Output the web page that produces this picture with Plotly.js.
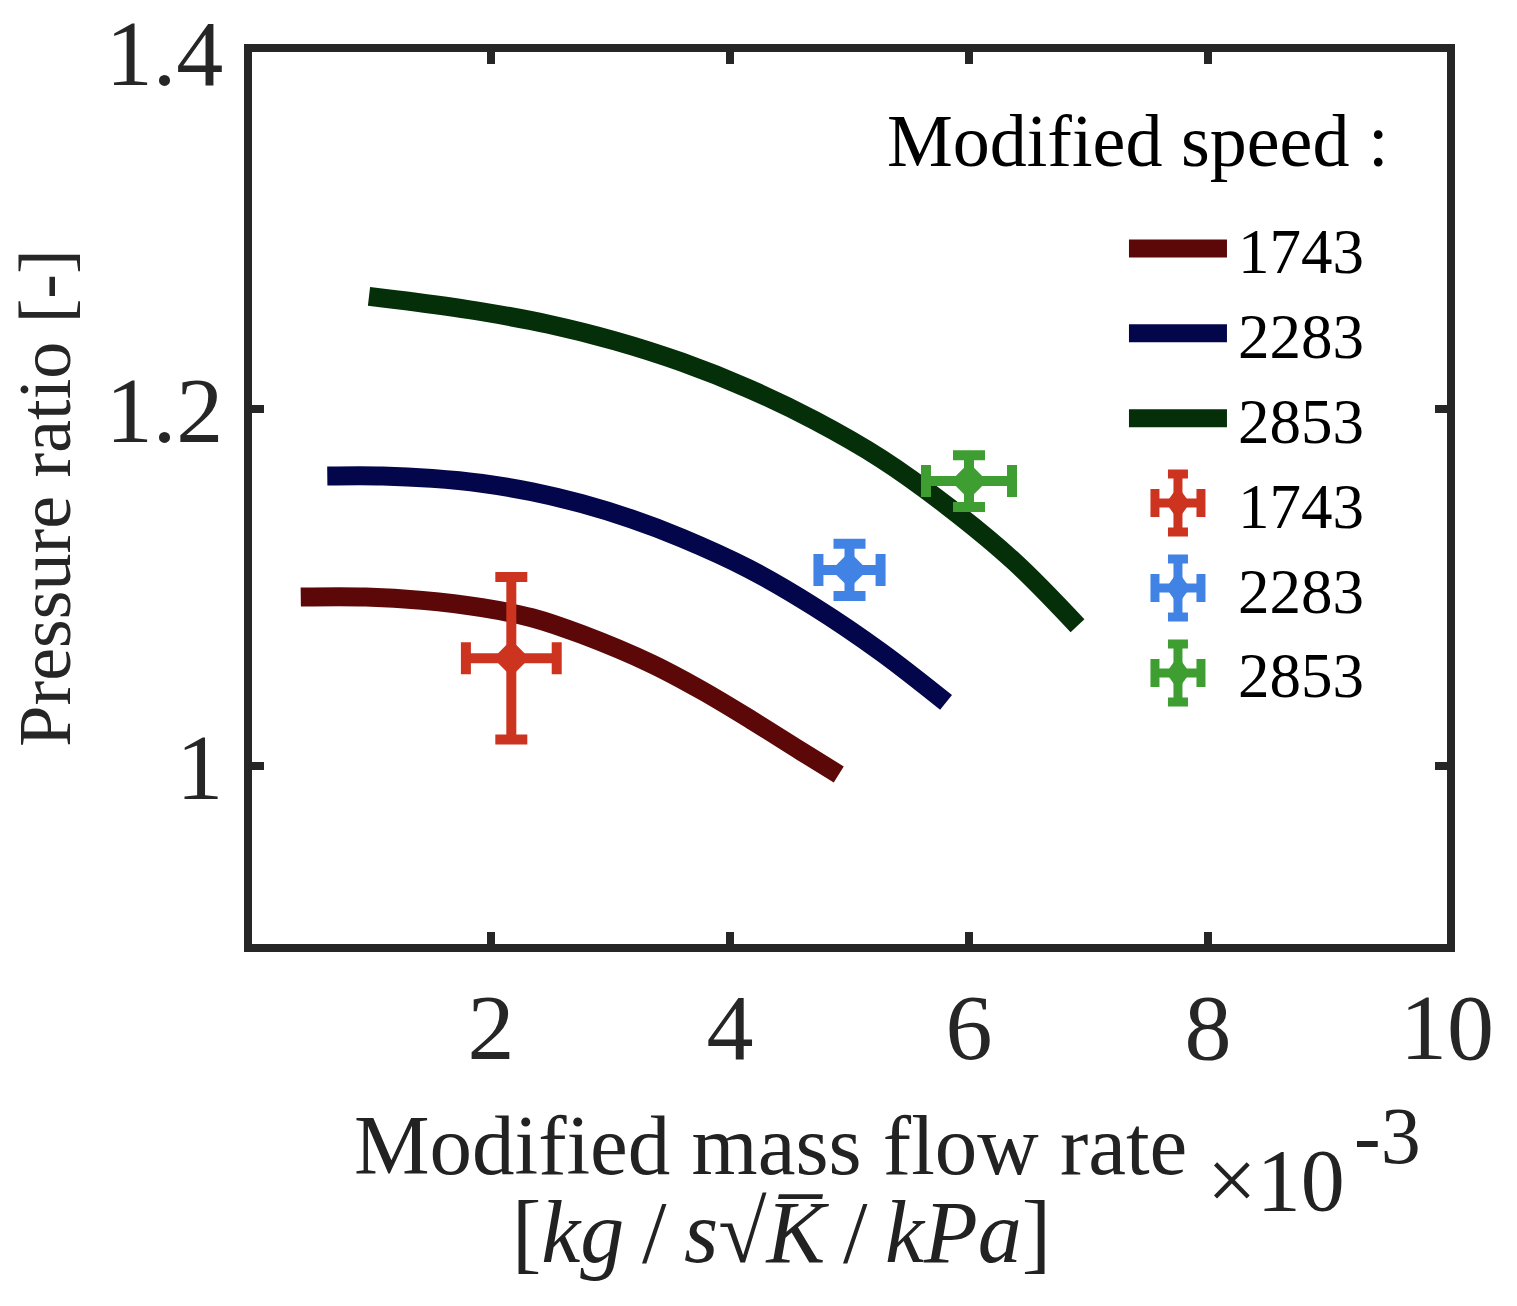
<!DOCTYPE html>
<html>
<head>
<meta charset="utf-8">
<script src="https://cdn.plot.ly/plotly-3.0.1.min.js"></script>
<style>
  body { margin: 0; background: #fff; }
  #chart { width: 1517px; height: 1306px; }
</style>
</head>
<body>
<div id="chart"></div>
<script>
// modified mass flow rate (x1e-3) / pressure ratio, model curves
const speeds = ['1743', '2283', '2853'];

const x1743 = [0.408, 0.950, 1.424, 1.925, 2.342, 2.760, 3.344, 3.762, 4.180, 4.597, 4.910];
const y1743 = [1.0945, 1.0945, 1.0926, 1.0885, 1.0829, 1.0735, 1.0570, 1.0422, 1.0255, 1.0080, 0.9950];

const x2283 = [0.630, 1.090, 1.507, 1.925, 2.342, 2.760, 3.177, 3.595, 4.152, 4.708, 5.265, 5.808];
const y2283 = [1.1624, 1.1624, 1.1610, 1.1582, 1.1535, 1.1468, 1.1382, 1.1276, 1.1105, 1.0889, 1.0636, 1.0354];

const x2853 = [0.979, 1.368, 1.925, 2.482, 3.038, 3.595, 4.152, 4.708, 5.265, 5.822, 6.378, 6.908];
const y2853 = [1.2630, 1.2598, 1.2544, 1.2474, 1.2381, 1.2262, 1.2114, 1.1935, 1.1720, 1.1453, 1.1144, 1.0784];

// measured points with error bars
const expX = [2.17, 5.0, 6.0];
const expY = [1.0602, 1.1097, 1.1595];
const expXerr = [0.38, 0.26, 0.36];
const expYerr = [0.0455, 0.0147, 0.0145];

const lineColors = ['#5c0808', '#03064a', '#042f09'];
const expColors = ['#cd3420', '#4183e5', '#3f9e31'];

const curvesX = [x1743, x2283, x2853];
const curvesY = [y1743, y2283, y2853];

let traces = [];
for (let i = 0; i < speeds.length; i++) {
    traces.push({
        x: curvesX[i], y: curvesY[i],
        type: 'scatter', mode: 'lines',
        name: speeds[i],
        line: {color: lineColors[i], width: 19, shape: 'spline', smoothing: 1},
        hoverinfo: 'skip'
    });
}
for (let i = 0; i < speeds.length; i++) {
    traces.push({
        x: [expX[i]], y: [expY[i]],
        type: 'scatter', mode: 'markers',
        name: speeds[i],
        marker: {symbol: 'diamond', size: 28, color: expColors[i]},
        error_x: {type: 'data', array: [expXerr[i]], color: expColors[i], thickness: 10, width: 16},
        error_y: {type: 'data', array: [expYerr[i]], color: expColors[i], thickness: 10, width: 16}
    });
}

const serif = 'Liberation Serif, Times New Roman, serif';
const axisCol = '#262626';

let layout = {
    width: 1517, height: 1306,
    paper_bgcolor: '#fff', plot_bgcolor: '#fff',
    margin: {l: 252, r: 70, t: 52, b: 362},
    font: {family: serif, color: '#000'},
    showlegend: true,
    legend: {
        x: 0.9347, y: 0.833, xanchor: 'right', yanchor: 'top',
        itemwidth: 104,
        bgcolor: 'rgba(0,0,0,0)', borderwidth: 0,
        font: {family: serif, size: 63, color: '#000'}
    },
    xaxis: {
        range: [0, 10],
        tickvals: [2, 4, 6, 8, 10],
        ticktext: ['2', '4', '6', '8', '10'],
        ticks: 'inside', ticklen: 12, tickwidth: 8, tickcolor: axisCol,
        showline: true, linewidth: 8, linecolor: axisCol, mirror: 'ticks',
        showgrid: false, zeroline: false,
        ticklabelstandoff: -6,
        tickfont: {family: serif, size: 94, color: axisCol}
    },
    yaxis: {
        range: [0.9, 1.4],
        tickvals: [1, 1.2, 1.4],
        ticktext: ['1', '1.2', '1.4'],
        ticks: 'inside', ticklen: 12, tickwidth: 8, tickcolor: axisCol,
        showline: true, linewidth: 8, linecolor: axisCol, mirror: 'ticks',
        showgrid: false, zeroline: false,
        ticklabelstandoff: 2,
        tickfont: {family: serif, size: 94, color: axisCol},
        title: {text: 'Pressure ratio [-]', standoff: 14, font: {family: serif, size: 74, color: axisCol}}
    },
    annotations: [
        {
            xref: 'paper', yref: 'paper', x: 0.9523, y: 0.900,
            xanchor: 'right', yanchor: 'middle', showarrow: false,
            text: 'Modified speed :',
            font: {family: serif, size: 74, color: '#000'}
        },
        {
            xref: 'paper', yref: 'paper', x: 0.4335, y: -0.2253,
            xanchor: 'center', yanchor: 'middle', showarrow: false,
            text: 'Modified mass flow rate',
            font: {family: serif, size: 85, color: '#222'}
        },
        {
            xref: 'paper', yref: 'paper', x: 0.4435, y: -0.3229,
            xanchor: 'center', yanchor: 'middle', showarrow: false,
            text: '[<i>kg</i>\u2009/\u2009<i>s</i>√<i>K\u0305</i>\u2009/\u2009<i>kPa</i>]',
            font: {family: serif, size: 88, color: '#222'}
        },
        {
            xref: 'paper', yref: 'paper', x: 0.9163, y: -0.2646,
            xanchor: 'right', yanchor: 'middle', showarrow: false,
            text: '×10',
            font: {family: serif, size: 88, color: '#222'}
        },
        {
            xref: 'paper', yref: 'paper', x: 0.9205, y: -0.2152,
            xanchor: 'left', yanchor: 'middle', showarrow: false,
            text: '-3',
            font: {family: serif, size: 80, color: '#222'}
        }
    ]
};

// MATLAB style legend keys: long thick lines, errorbar crosses
function styleLegend(gd) {
    const items = gd.querySelectorAll('.legend .traces');
    items.forEach(function (item, i) {
        const line = item.querySelector('.js-line');
        if (line && i < 3) {
            line.setAttribute('d', 'M5,0h98');
            line.style.strokeWidth = '18px';
        }
        const pt = item.querySelector('.legendpoints path.scatterpts');
        if (pt && i >= 3) {
            const col = expColors[i - 3];
            pt.setAttribute('transform', 'translate(54,0) scale(1.15,1.6)');
            const cross = document.createElementNS('http://www.w3.org/2000/svg', 'path');
            cross.setAttribute('d', 'M31,0H77M31,-14V14M77,-14V14M54,-29V29M44,-29H64M44,29H64');
            cross.setAttribute('stroke', col);
            cross.setAttribute('stroke-width', '9');
            cross.setAttribute('fill', 'none');
            pt.parentNode.insertBefore(cross, pt);
        }
    });
    // taller MATLAB diamonds on the plot
    gd.querySelectorAll('.plot .scatterlayer .trace .points path.point').forEach(function (p) {
        const t = p.getAttribute('transform');
        if (t && t.indexOf('scale') < 0) p.setAttribute('transform', t + ' scale(0.86,1.17)');
    });
}

Plotly.newPlot('chart', traces, layout, {staticPlot: true}).then(styleLegend);
</script>
</body>
</html>
